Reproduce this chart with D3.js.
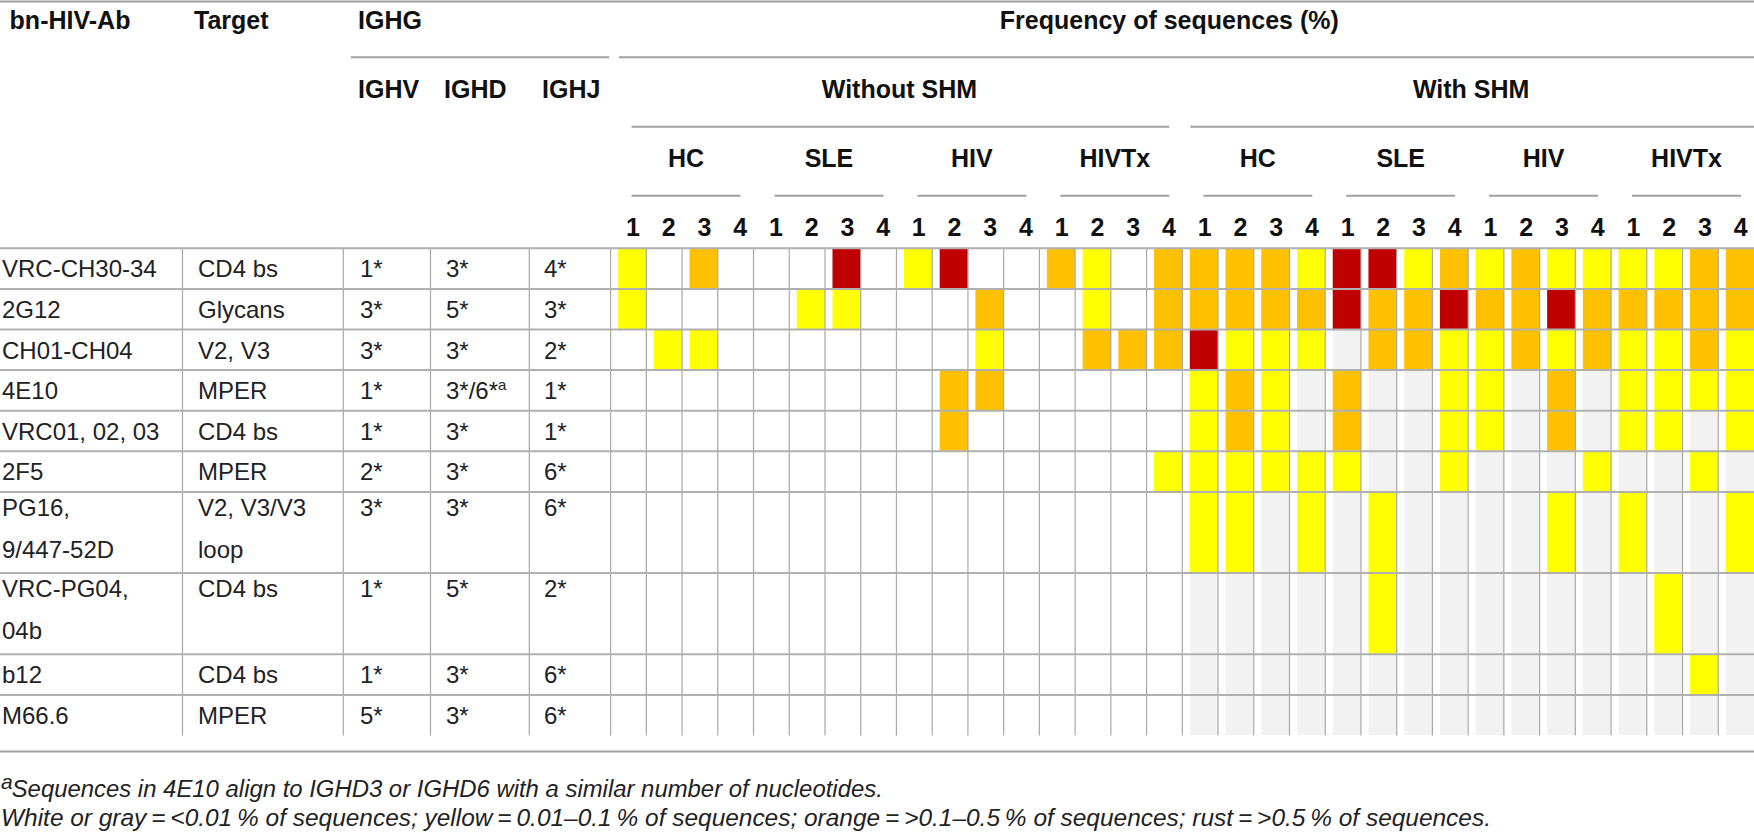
<!DOCTYPE html>
<html>
<head>
<meta charset="utf-8">
<script src="https://cdn.jsdelivr.net/npm/d3@7/dist/d3.min.js"></script>
<style>
  html, body { margin: 0; padding: 0; background: #fff; }
  svg { display: block; font-family: "Liberation Sans", Arial, sans-serif; }
  .hd { font-weight: bold; font-size: 25px; fill: #111; }
  .cell { font-size: 24px; fill: #222; }
  .note { font-style: italic; font-size: 21px; fill: #222; }
</style>
</head>
<body>
<div id="chart"></div>
<script>
document.addEventListener("DOMContentLoaded", function () {

const width = 1754;
const height = 836;

// antibody rows (arrays = two text lines)
const antibodies = ["VRC-CH30-34", "2G12", "CH01-CH04", "4E10", "VRC01, 02, 03", "2F5",
  ["PG16,", "9/447-52D"], ["VRC-PG04,", "04b"], "b12", "M66.6"];
const targets = ["CD4 bs", "Glycans", "V2, V3", "MPER", "CD4 bs", "MPER",
  ["V2, V3/V3", "loop"], "CD4 bs", "CD4 bs", "MPER"];
const ighv = ["1*", "3*", "3*", "1*", "1*", "2*", "3*", "1*", "1*", "5*"];
const ighd = ["3*", "5*", "3*", "3*/6*", "3*", "3*", "3*", "5*", "3*", "3*"];
const ighj = ["4*", "3*", "2*", "1*", "1*", "6*", "6*", "2*", "6*", "6*"];
const rowLines = [1, 1, 1, 1, 1, 1, 2, 2, 1, 1];

const shmGroups = ["Without SHM", "With SHM"];
const cohorts = ["HC", "SLE", "HIV", "HIVTx"];
const subjects = ["1", "2", "3", "4"];

// frequency class per cell: w white, g gray (<0.01%), y 0.01-0.1%, o >0.1-0.5%, r >0.5%
// 16 columns without SHM, then 16 with SHM
const withoutSHM = [
  "ywowwwrwyrwwoywo",
  "ywwwwyywwwowwywo",
  "wyywwwwwwwywwooo",
  "wwwwwwwwwoowwwww",
  "wwwwwwwwwowwwwww",
  "wwwwwwwwwwwwwwwy",
  "wwwwwwwwwwwwwwww",
  "wwwwwwwwwwwwwwww",
  "wwwwwwwwwwwwwwww",
  "wwwwwwwwwwwwwwww"
];
const withSHM = [
  "oooyrryoyoyyyyoo",
  "oooorooroorooooo",
  "ryyygooyyoyoyyoy",
  "yoygoggyygogyyyy",
  "yoygoggyygogyygy",
  "yyyyyggygggyggyg",
  "yygygyggggygyggy",
  "gggggygggggggygg",
  "ggggggggggggggyg",
  "gggggggggggggggg"
];

const colors = { w: "#ffffff", g: "#f2f2f2", y: "#ffff00", o: "#ffc000", r: "#c00000" };

const svg = d3.select("#chart").append("svg")
  .attr("width", width)
  .attr("height", height);

// layout
const textCols = [0, 182.5, 343.3, 430.5, 529.3, 610.6];
const textX = [2, 198, 360, 446, 544];
const gridTop = 248.3;
const unitH = 40.6;

// column keys for heat map
const colKeys = [];
shmGroups.forEach((s, si) => cohorts.forEach((c, ci) => subjects.forEach(n => colKeys.push(`${si}-${ci}-${n}`))));

const x = d3.scaleBand().domain(colKeys).range([textCols[5], width]).padding(0);
const cum = [0];
rowLines.forEach(n => cum.push(cum[cum.length - 1] + n));
const y = d3.scaleLinear().domain([0, cum[cum.length - 1]]).range([gridTop, gridTop + cum[cum.length - 1] * unitH]);
const gridBottom = y(cum[cum.length - 1]);

// heat map cells
const cells = [];
d3.range(antibodies.length).forEach(r => {
  const codes = withoutSHM[r] + withSHM[r];
  colKeys.forEach((k, i) => cells.push({ r, k, v: codes[i] }));
});

svg.append("g").selectAll("rect")
  .data(cells.filter(d => d.v !== "w"))
  .enter().append("rect")
  .attr("x", d => x(d.k) + 7.5)
  .attr("y", d => y(cum[d.r]) + 0.5)
  .attr("width", x.bandwidth() - 7.5)
  .attr("height", d => y(cum[d.r + 1]) - y(cum[d.r]) - 1)
  .attr("fill", d => colors[d.v]);

// grid lines
const grid = svg.append("g");
grid.selectAll("line.v")
  .data(textCols.slice(1).concat(colKeys.slice(1).map(k => x(k))))
  .enter().append("line")
  .attr("x1", d => d).attr("x2", d => d)
  .attr("y1", gridTop).attr("y2", gridBottom)
  .attr("stroke", "#a8a8a8").attr("stroke-width", 1.2);

grid.selectAll("line.h")
  .data(cum.slice(0, -1))
  .enter().append("line")
  .attr("x1", 0).attr("x2", width)
  .attr("y1", d => y(d)).attr("y2", d => y(d))
  .attr("stroke", "#b0b0b0").attr("stroke-width", 2);

// top and bottom rules
[1.5, gridBottom + 16].forEach(v => {
  svg.append("line").attr("x1", 0).attr("x2", width).attr("y1", v).attr("y2", v)
    .attr("stroke", "#a0a0a0").attr("stroke-width", 2);
});

// header
const hd = svg.append("g");
const hText = (t, xx, yy, anchor) => hd.append("text").attr("class", "hd")
  .attr("x", xx).attr("y", yy).attr("text-anchor", anchor || "start").text(t);
const hLine = (x1, x2, yy) => hd.append("line").attr("x1", x1).attr("x2", x2)
  .attr("y1", yy).attr("y2", yy).attr("stroke", "#a0a0a0").attr("stroke-width", 2);

const hy = [29.3, 98.3, 166.7, 235.7];
const ly = [57.3, 126.7, 195.7];

hText("bn-HIV-Ab", 9.6, hy[0]);
hText("Target", 194, hy[0]);
hText("IGHG", 358, hy[0]);
hLine(351, 609, ly[0]);
["IGHV", "IGHD", "IGHJ"].forEach((t, i) => hText(t, textX[i + 2] - 2, hy[1]));

hText("Frequency of sequences (%)", (x.range()[0] + width) / 2 - 13, hy[0], "middle");
hLine(619, width, ly[0]);

shmGroups.forEach((s, si) => {
  const L = x(`${si}-0-1`);
  const R = x(`${si}-3-4`) + x.bandwidth();
  hText(s, (L + R) / 2 + 3, hy[1], "middle");
  hLine(si === 0 ? L + 21 : L + 8, si === 0 ? R - 13 : width, ly[1]);
  cohorts.forEach((c, ci) => {
    const cl = x(`${si}-${ci}-1`);
    const cr = x(`${si}-${ci}-4`) + x.bandwidth();
    hText(c, (cl + 21 + cr - 13) / 2, hy[2], "middle");
    hLine(cl + 21, cr - 13, ly[2]);
    subjects.forEach(n => hText(n, x(`${si}-${ci}-${n}`) + x.bandwidth() / 2 + 4.5, hy[3], "middle"));
  });
});

// row text
const body = svg.append("g");
[antibodies, targets, ighv, ighd, ighj].forEach((col, ci) => {
  col.forEach((val, r) => {
    const lines = Array.isArray(val) ? val : [val];
    const top = y(cum[r]);
    const t = body.append("text").attr("class", "cell").attr("x", textX[ci]);
    lines.forEach((ln, li) => {
      const base = rowLines[r] > 1 ? top + 24 + li * 41.6 : top + 29;
      t.append("tspan").attr("x", textX[ci]).attr("y", base).text(ln);
    });
    if (ci === 3 && r === 3) {
      t.append("tspan").attr("dy", -9).attr("font-size", "15px").text("a");
    }
  });
});

// footnotes
const notes = svg.append("g");
notes.append("text").attr("class", "note").attr("x", 1).attr("y", 789)
  .attr("font-size", "14px").text("a");
const n1 = notes.append("text").attr("class", "note").attr("x", 11.7).attr("y", 797)
  .text("Sequences in 4E10 align to IGHD3 or IGHD6 with a similar number of nucleotides.");
const n2 = notes.append("text").attr("class", "note").attr("x", 1).attr("y", 825.5)
  .text("White or gray\u2009=\u2009<0.01\u2009% of sequences; yellow\u2009=\u20090.01\u20130.1\u2009% of sequences; orange\u2009=\u2009>0.1\u20130.5\u2009% of sequences; rust\u2009=\u2009>0.5\u2009% of sequences.");

// fit footnote size to the printed line lengths
[[n1, 883 - 11.7], [n2, 1490]].forEach(([el, target]) => {
  const w = el.node().getComputedTextLength();
  if (w > 0) el.style("font-size", (21 * target / w).toFixed(2) + "px");
});

});
</script>
</body>
</html>
